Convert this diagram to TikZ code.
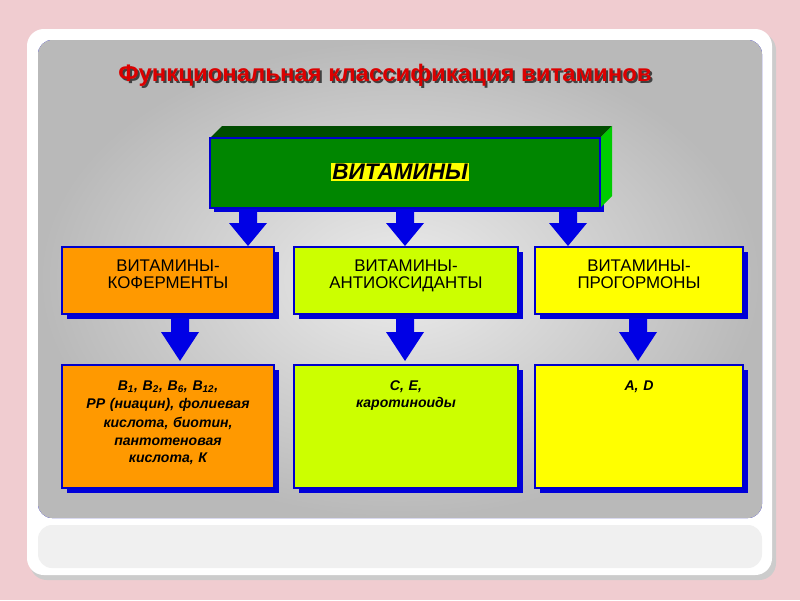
\documentclass[tikz,border=0pt]{standalone}
\usepackage{fontspec}
\setmainfont{Liberation Sans}
\usetikzlibrary{positioning}
\definecolor{pinkbg}{RGB}{240,204,208}
\definecolor{orangebox}{RGB}{255,153,0}
\definecolor{limebox}{RGB}{204,255,0}
\definecolor{yellowbox}{RGB}{255,255,0}
\definecolor{greenbox}{RGB}{0,134,0}
\definecolor{titlered}{RGB}{220,0,0}
\tikzset{
  panel/.style={draw=blue!80!black, line width=1pt},
  shade/.style={fill=blue!85!black},
  arr/.style={fill=blue!90!black},
  lbl/.style={align=center, text width=5.4cm}
}
\newcommand{\blueArrow}[3]{% x, top y, bottom y
  \fill[arr] (#1-9,#2) -- (#1+9,#2) -- (#1+9,#2+14) -- (#1+19,#2+14) -- (#1,#3) -- (#1-19,#2+14) -- (#1-9,#2+14) -- cycle;}
\begin{document}
\begin{tikzpicture}[x=0.025cm,y=-0.025cm]
\useasboundingbox (0,0) rectangle (800,600);
\fill[pinkbg] (0,0) rectangle (800,600);
% card and panel
\fill[gray!40, rounded corners=12pt] (30,33) rectangle (776,580);
\fill[white, rounded corners=12pt] (27,29) rectangle (772,575);
\shade[inner color=gray!15, outer color=gray!55, rounded corners=10pt] (38,40) rectangle (762,518);
\fill[gray!12, rounded corners=10pt] (38,525) rectangle (762,568);
% title
\node (title) at (387,77) {\fontsize{17}{19}\selectfont\bfseries\textcolor{black!75}{Функциональная классификация витаминов}};
\node (titlefg) at (385,75) {\fontsize{17}{19}\selectfont\bfseries\textcolor{titlered}{Функциональная классификация витаминов}};
% top box
\fill[shade] (214,142) rectangle (604,212);
\fill[green!30!black] (210,138) -- (222,126) -- (612,126) -- (600,138) -- cycle;
\fill[green!80!black] (600,138) -- (612,126) -- (612,196) -- (600,208) -- cycle;
\fill[greenbox] (210,138) rectangle (600,208);
\draw[panel] (210,138) rectangle (600,208);
\node[fill=yellowbox, inner sep=1pt] (vit) at (400,172) {\fontsize{16}{18}\selectfont\bfseries\itshape ВИТАМИНЫ};
% arrows from top
\blueArrow{248}{209}{246}
\blueArrow{405}{209}{246}
\blueArrow{568}{209}{246}
% middle row
\foreach \xa/\xb/\col/\txt in {62/274/orangebox/{ВИТАМИНЫ-\\КОФЕРМЕНТЫ},
                               294/518/limebox/{ВИТАМИНЫ-\\АНТИОКСИДАНТЫ},
                               535/743/yellowbox/{ВИТАМИНЫ-\\ПРОГОРМОНЫ}} {
  \fill[shade] (\xa+5,252) rectangle (\xb+5,319);
  \fill[\col] (\xa,247) rectangle (\xb,314);
  \draw[panel] (\xa,247) rectangle (\xb,314);
  \node[lbl, anchor=north] at ({(\xa+\xb)/2},255) {\fontsize{12}{16}\selectfont\txt};
}
% arrows to bottom
\blueArrow{180}{318}{361}
\blueArrow{405}{318}{361}
\blueArrow{638}{318}{361}
% bottom row
\foreach \xa/\xb/\col/\txt in {62/274/orangebox/{B\textsubscript{1}, B\textsubscript{2}, B\textsubscript{6}, B\textsubscript{12},\\PP (ниацин), фолиевая\\кислота, биотин,\\пантотеновая\\кислота, К},
                               294/518/limebox/{С, Е,\\каротиноиды},
                               535/743/yellowbox/{А, D}} {
  \fill[shade] (\xa+5,370) rectangle (\xb+5,493);
  \fill[\col] (\xa,365) rectangle (\xb,488);
  \draw[panel] (\xa,365) rectangle (\xb,488);
  \node[lbl, anchor=north, font=\bfseries\itshape] at ({(\xa+\xb)/2},376) {\fontsize{10}{13}\selectfont\txt};
}
\end{tikzpicture}
\end{document}
